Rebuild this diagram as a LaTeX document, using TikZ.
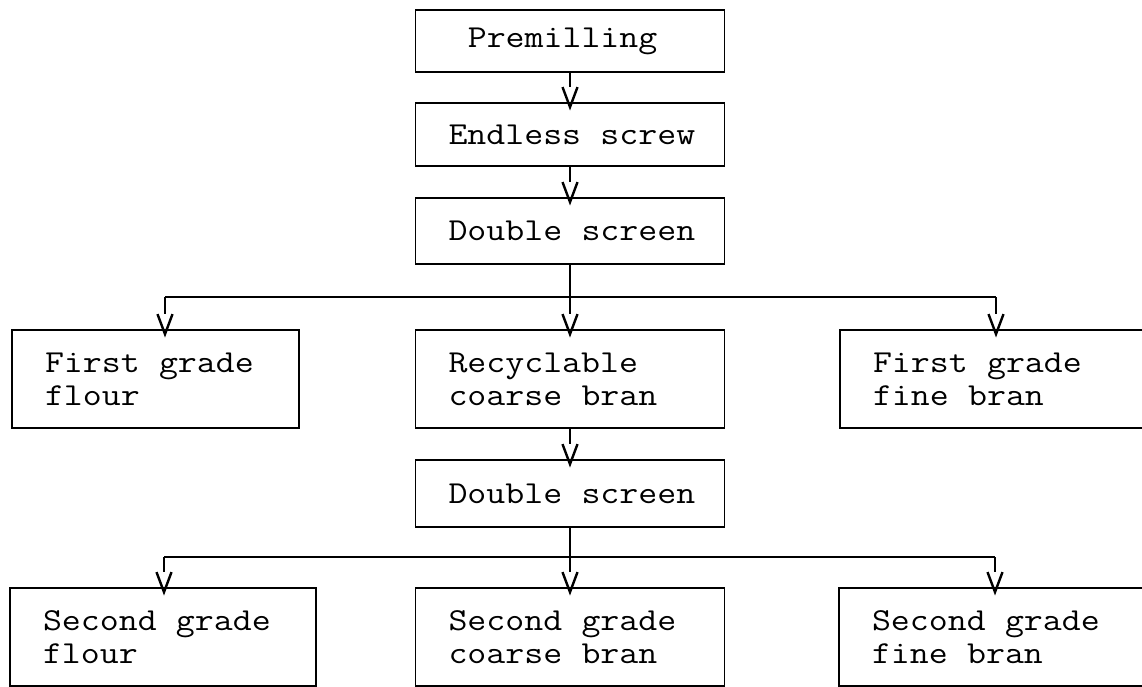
\documentclass[tikz,border=0pt]{standalone}
\usepackage{fontspec}
\newfontfamily\boxtt{Latin Modern Mono}[FakeStretch=1.15]
\usetikzlibrary{arrows.meta}
\pgfdeclarearrow{
  name = Vee,
  parameters = {\the\pgfarrowlength,\the\pgfarrowwidth},
  setup code = {
    \pgfarrowssettipend{0pt}
    \pgfarrowssetbackend{-\pgfarrowlength}
    \pgfarrowssetlineend{-\pgfarrowlength}
    \pgfarrowssetvisualbackend{-\pgfarrowlength}
    \pgfarrowshullpoint{0pt}{0pt}
    \pgfarrowsupperhullpoint{-\pgfarrowlength}{.5\pgfarrowwidth}
    \pgfarrowssavethe\pgfarrowlength
    \pgfarrowssavethe\pgfarrowwidth
  },
  drawing code = {
    \pgfsetlinewidth{2.4pt}
    \pgfsetdash{}{0pt}
    \pgfsetmiterjoin
    \pgfpathmoveto{\pgfqpoint{-\pgfarrowlength}{.5\pgfarrowwidth}}
    \pgfpathlineto{\pgfqpoint{0pt}{0pt}}
    \pgfpathlineto{\pgfqpoint{-\pgfarrowlength}{-.5\pgfarrowwidth}}
    \pgfusepathqstroke
  },
  defaults = {length = 20pt, width = 15pt}
}
\newcommand{\boxfont}{\fontsize{32}{33}\selectfont\boxtt\fontdimen2\font=19.3pt\relax}
\hfuzz=40pt
\tikzset{
  box/.style={draw, line width=1.8pt, rectangle, inner xsep=33pt, inner ysep=0pt,
    align=flush left, font=\boxfont},
  flow/.style={line width=1.8pt, -{Vee[length=20pt,width=15pt]}, shorten >=-5pt},
  link/.style={line width=1.8pt},
}
\begin{document}
\begin{tikzpicture}[x=1pt,y=-1pt]
\useasboundingbox (0,0) rectangle (1142,686);
\clip (0,0) rectangle (1142,686);
% top column
\node[box, minimum height=62pt, text width=243pt] (p) at (570,41) {~Premilling};
\node[box, minimum height=63pt, text width=243pt] (e) at (570,134.5) {\mbox{Endless screw}};
\node[box, minimum height=66pt, text width=243pt] (d1) at (570,231) {\mbox{Double screen}};
% row 2
\node[box, minimum height=98pt, text width=221pt] (ff) at (155.5,379) {First grade\\flour};
\node[box, minimum height=98pt, text width=243pt] (rc) at (570,379) {Recyclable\\coarse bran};
\node[box, minimum height=98pt, text width=254pt] (fb) at (1000,379) {First grade\\fine bran};
% second screen
\node[box, minimum height=67pt, text width=243pt] (d2) at (570,493.5) {\mbox{Double screen}};
% row 3
\node[box, minimum height=98pt, text width=240pt] (sf) at (163,637) {Second grade\\flour};
\node[box, minimum height=98pt, text width=243pt] (sc) at (570,637) {Second grade\\coarse bran};
\node[box, minimum height=98pt, text width=255pt] (sb) at (999.5,637) {Second grade\\fine bran};
% connectors
\draw[flow] (p.south) -- (e.north);
\draw[flow] (e.south) -- (d1.north);
\draw[flow] (d1.south) -- (rc.north);
\coordinate (l1) at (165,297);
\coordinate (r1) at (996,297);
\draw[link] (l1) -- (r1);
\draw[flow] (l1) -- (l1 |- ff.north);
\draw[flow] (r1) -- (r1 |- fb.north);
\draw[flow] (rc.south) -- (d2.north);
\draw[flow] (d2.south) -- (sc.north);
\coordinate (l2) at (164,557);
\coordinate (r2) at (995,557);
\draw[link] (l2) -- (r2);
\draw[flow] (l2) -- (l2 |- sf.north);
\draw[flow] (r2) -- (r2 |- sb.north);
\end{tikzpicture}
\end{document}
